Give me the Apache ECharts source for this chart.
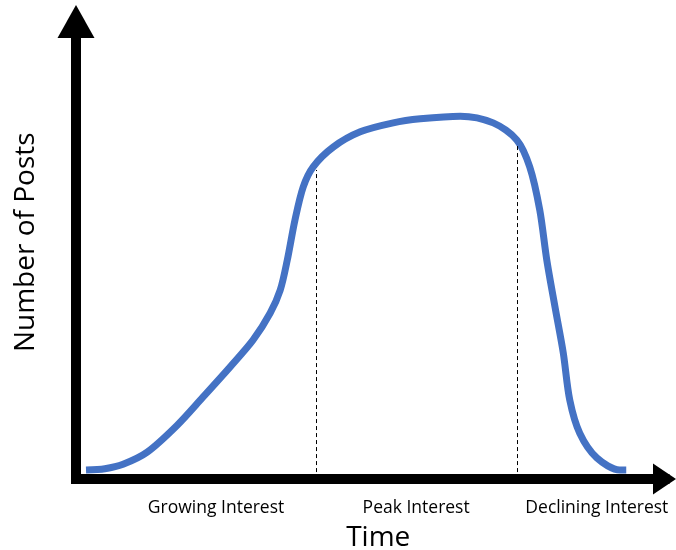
<!DOCTYPE html>
<html><head><meta charset="utf-8">
<script src="https://cdn.jsdelivr.net/npm/echarts@6/dist/echarts.min.js"></script>
<style>html,body{margin:0;padding:0;background:#fff}#c{width:676px;height:550px}</style>
</head><body><div id="c"></div>
<script>
const timeValues = [1.7, 4.9, 8.0, 12.1, 17.2, 21.6, 26.2, 30.1, 33.0, 34.7, 35.9, 37.2, 38.6, 40.3, 43.7, 48.3, 53.9, 58.5, 65.3, 70.9, 74.9, 77.1, 78.8, 80.0, 81.4, 82.8, 83.9, 85.6, 88.5, 92.4, 93.5];
const postValues = [0, 0.3, 1.3, 4.0, 10.0, 16.3, 23.0, 29.0, 35.0, 40.1, 46.8, 55.7, 63.1, 67.6, 72.0, 75.4, 77.4, 78.3, 78.9, 77.4, 73.6, 67.6, 58.0, 46.8, 36.3, 26.1, 15.6, 8.2, 2.7, 0, 0];
const phaseNames = ['Growing Interest', 'Peak Interest', 'Declining Interest'];
const phaseCenters = [23.8, 57.8, 88.5];
const phaseBoundaries = [40.8, 74.9];
const boundaryTops = [66.9, 72.9];

const chart = echarts.init(document.getElementById('c'));
const fontFam = '"Open Sans", "Noto Sans", sans-serif';
chart.setOption({
  animation: false,
  grid: { left: 76, right: 11.5, top: 21.5, bottom: 71, containLabel: false, outerBoundsMode: 'none' },
  xAxis: {
    type: 'value', min: 0, max: 100,
    name: 'Time', nameLocation: 'middle', nameGap: 45,
    nameTextStyle: { fontSize: 28, color: '#000', fontFamily: fontFam, padding: [0, 0, 0, 16] },
    axisLine: { show: true, onZero: false, symbol: ['none', 'triangle'], symbolSize: [31, 23],
      lineStyle: { color: '#000', width: 10, cap: 'square' } },
    axisTick: { show: false },
    splitLine: { show: false },
    axisLabel: {
      show: true, customValues: phaseCenters, margin: 20, hideOverlap: false,
      fontSize: 17.5, color: '#000', fontFamily: fontFam,
      formatter: function (v) { const i = phaseCenters.indexOf(v); return i >= 0 ? phaseNames[i] : ''; }
    }
  },
  yAxis: {
    type: 'value', min: -2, max: 100,
    name: 'Number of Posts', nameLocation: 'middle', nameGap: 36,
    nameTextStyle: { fontSize: 28, color: '#000', fontFamily: fontFam, padding: [0, 0, 0, 16] },
    axisLine: { show: true, onZero: false, symbol: ['none', 'triangle'], symbolSize: [37, 33],
      lineStyle: { color: '#000', width: 10, cap: 'square' } },
    axisTick: { show: false }, axisLabel: { show: false }, splitLine: { show: false }
  },
  series: [{
    type: 'line',
    data: timeValues.map((t, i) => [t, postValues[i]]),
    smooth: 0.3, showSymbol: false, symbol: 'none',
    lineStyle: { color: '#4472C4', width: 7 },
    markLine: {
      silent: true, symbol: ['none', 'none'], label: { show: false },
      lineStyle: { color: '#000', width: 1, type: [4, 3] },
      data: phaseBoundaries.map((b, i) => [{ coord: [b, -0.45] }, { coord: [b, boundaryTops[i]] }])
    }
  }]
});
</script></body></html>
